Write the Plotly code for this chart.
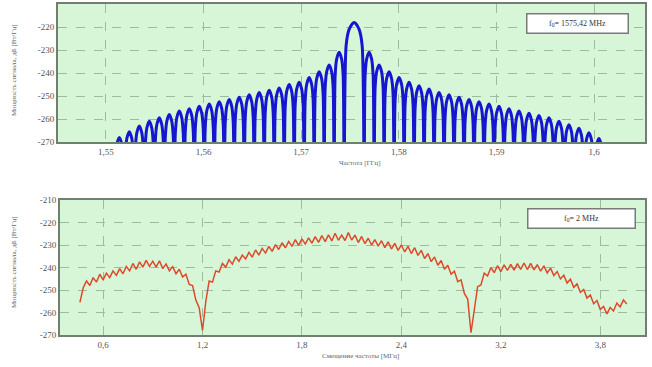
import numpy as np
import plotly.graph_objects as go

# ---------------- data ----------------
# Top panel: GPS L1 C/A spectrum (sinc^2 lobes), levels
f0_ghz = 1.57542
chip_ghz = 0.001023
main_peak = -218.0
left_lobe_peaks = [-231, -236.5, -239.5, -242, -244, -245, -246.5, -247.5, -248.5,
                   -249.5, -250.5, -251.5, -252.5, -253.5, -254.5, -255.5, -256.5,
                   -258, -259.5, -261, -263, -265.5, -268]
right_lobe_peaks = [-231, -236.5, -239.5, -242, -244, -245.5, -247, -248.5, -249.5,
                    -250.5, -251.5, -252.5, -253.5, -254.5, -255.5, -256.5, -257.5,
                    -258.5, -259.5, -261, -262.5, -264, -266, -268.5]
null_level = -290.0
# sinc^2 lobe template: position within lobe (0..1) and level relative to lobe peak [dB]
lobe_pos = [0.0, 0.1, 0.25, 0.5, 0.75, 0.9]
lobe_rel = [None, -10.0, -3.0, 0.0, -3.0, -10.0]

# Bottom panel: offset-frequency spectrum
x2_start = 0.46
x2_step = 0.02
psd2 = [
    -255.5, -249, -246, -248, -244.5, -246.5, -243, -245.5, -242.5, -244.5,
    -241.5, -243.5, -240.5, -242.8, -239.5, -241.5, -238.2, -240.8, -237.5, -239.8,
    -236.8, -239.5, -237.2, -239.8, -237, -240.5, -238.4, -241.5, -239.6, -242.8,
    -240.8, -244.2, -243, -247.5, -248, -254.5, -258, -268, -255, -246,
    -246.5, -241.5, -242, -238.2, -239.8, -236.5, -238.5, -235.2, -237.3, -234.5,
    -236.2, -233.3, -235.4, -232.2, -234.5, -231.5, -233.6, -230.6, -232.8, -229.8,
    -232, -229, -231.3, -228.4, -230.6, -227.6, -230.2, -227.3, -229.6, -226.8,
    -229.2, -226.3, -228.8, -225.8, -228.5, -225.5, -228.2, -224.8, -227.9, -225.6,
    -228, -224.5, -227.8, -225.6, -228.9, -226.2, -229.4, -227, -230, -227.6,
    -230.5, -228.1, -231.2, -228.6, -231.8, -229.3, -232.4, -230, -233.1, -230.6,
    -233.8, -231.2, -234.6, -232.4, -236, -233.8, -237.4, -235.3, -239, -236.9,
    -240.8, -239, -243, -241.6, -246.3, -245.5, -251.5, -254, -269, -257.5,
    -248.5, -247.8, -242.5, -243.8, -240, -242.3, -239.2, -241.8, -238.8, -241.3,
    -238.6, -241.2, -238.3, -240.8, -238, -240.9, -238.2, -241.1, -238.7, -241.6,
    -239.3, -242.4, -240.3, -243.6, -241.8, -245.1, -243.4, -246.9, -245.2, -248.8,
    -247.3, -251, -249.8, -253.6, -252.2, -256.1, -254.7, -258.6, -257.3, -260.6,
    -257.8, -259.3, -255.8, -257.5, -254.4, -256.2,
]

y_ticks = [-210, -220, -230, -240, -250, -260, -270]
top_x_ticks = [1.55, 1.56, 1.57, 1.58, 1.59, 1.60]
top_x_labels = ["1,55", "1,56", "1,57", "1,58", "1,59", "1,6"]
bot_x_ticks = [0.6, 1.2, 1.8, 2.4, 3.0, 3.6]
bot_x_labels = ["0,6", "1,2", "1,8", "2,4", "3,2", "3,8"]

# ---------------- build top trace ----------------
def add_lobe(xs, ys, start, width, peak):
    for p, r in zip(lobe_pos, lobe_rel):
        xs.append(start + p * width)
        ys.append(null_level if r is None else peak + r)

x1, y1 = [], []
nL = len(left_lobe_peaks)
for k in range(nL, 0, -1):
    add_lobe(x1, y1, f0_ghz - (k + 1) * chip_ghz, chip_ghz, left_lobe_peaks[k - 1])
add_lobe(x1, y1, f0_ghz - chip_ghz, 2 * chip_ghz, main_peak)
for k in range(1, len(right_lobe_peaks) + 1):
    add_lobe(x1, y1, f0_ghz + k * chip_ghz, chip_ghz, right_lobe_peaks[k - 1])
x1.append(f0_ghz + (len(right_lobe_peaks) + 1) * chip_ghz); y1.append(null_level)

x2 = x2_start + x2_step * np.arange(len(psd2))

# ---------------- figure ----------------
W, H = 652, 367
def px(x): return x / W
def py(y): return 1 - y / H

fig = go.Figure()
fig.add_trace(go.Scatter(x=x1, y=y1, mode="lines", xaxis="x", yaxis="y",
                         line=dict(color="#1616d0", width=3, shape="spline", smoothing=0.8),
                         showlegend=False, hoverinfo="skip"))
fig.add_trace(go.Scatter(x=x2, y=psd2, mode="lines", xaxis="x2", yaxis="y2",
                         line=dict(color="#dc4a2c", width=1.5),
                         showlegend=False, hoverinfo="skip"))

font_fam = "Liberation Serif, Times New Roman, serif"
axis_common = dict(showgrid=True, gridcolor="#9dbb9d", griddash="dash", gridwidth=0.7,
                   showline=True, mirror=True, linecolor="#6f806f", linewidth=2,
                   zeroline=False, ticks="", automargin=False,
                   tickfont=dict(family=font_fam, size=9, color="#555555"))

fig.update_layout(
    width=W, height=H,
    margin=dict(l=0, r=0, t=0, b=0, autoexpand=False),
    paper_bgcolor="white",
    plot_bgcolor="#d7f6d7",
    xaxis=dict(domain=[px(58), px(645)], range=[1.5451, 1.6052], anchor="y",
               tickvals=top_x_ticks, ticktext=top_x_labels, **axis_common),
    yaxis=dict(domain=[py(142), py(4)], range=[-270, -210], anchor="x",
               tickvals=y_ticks, ticktext=[str(v) for v in y_ticks], **axis_common),
    xaxis2=dict(domain=[px(60), px(645)], range=[0.34, 3.87], anchor="y2",
                tickvals=bot_x_ticks, ticktext=bot_x_labels, **axis_common),
    yaxis2=dict(domain=[py(335), py(200)], range=[-270, -210], anchor="x2",
                tickvals=y_ticks, ticktext=[str(v) for v in y_ticks], **axis_common),
)

title_font = dict(family=font_fam, size=7, color="#666666")
box_font = dict(family=font_fam, size=8, color="#333333")
ann = [
    dict(x=px(360), y=py(163), text="Частота [ГГц]", font=title_font),
    dict(x=px(360), y=py(356), text="Смещение частоты [МГц]", font=title_font),
    dict(x=px(14), y=py(70), text="Мощность сигнала, дБ [Вт/Гц]", textangle=-90, font=title_font),
    dict(x=px(14), y=py(262), text="Мощность сигнала, дБ [Вт/Гц]", textangle=-90, font=title_font),
    dict(x=px(577), y=py(23), text="f<sub>0</sub>= 1575,42 MHz", font=box_font,
         bgcolor="white", bordercolor="#7a7a7a", borderwidth=1.5, borderpad=4, width=92),
    dict(x=px(581), y=py(218), text="f<sub>0</sub>= 2 MHz", font=box_font,
         bgcolor="white", bordercolor="#7a7a7a", borderwidth=1.5, borderpad=4, width=98),
]
for a in ann:
    a.update(xref="paper", yref="paper", showarrow=False, xanchor="center", yanchor="middle")
fig.update_layout(annotations=ann)

fig.write_html("out.html", config={"displayModeBar": False},
               post_script="document.body.style.margin='0';document.body.style.overflow='hidden';")
